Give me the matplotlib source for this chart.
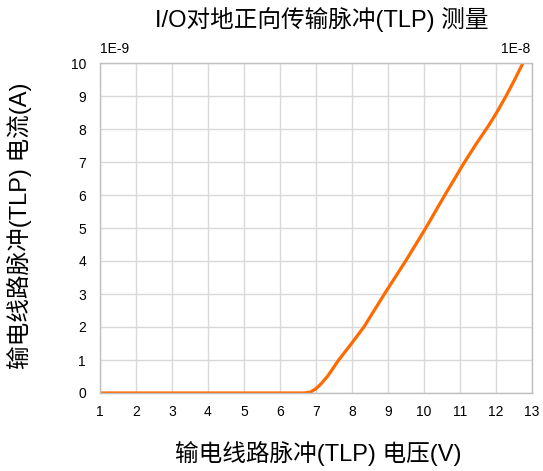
import matplotlib
matplotlib.use("Agg")
import matplotlib.pyplot as plt

plt.rcParams['font.family'] = ['Liberation Sans', 'Noto Sans CJK SC', 'DejaVu Sans']

voltage = [1.0, 6.68, 6.85, 7.0, 7.15, 7.33, 7.63, 8.0, 8.33, 8.90, 9.49, 10.05, 10.58, 11.1, 11.45, 11.78, 12.02, 12.29, 12.52, 12.75]
current = [0.0, 0.0, 0.03, 0.13, 0.29, 0.52, 1.0, 1.52, 2.0, 3.0, 4.0, 5.0, 6.0, 6.95, 7.55, 8.08, 8.5, 9.02, 9.5, 10.0]
x_ticks = list(range(1, 14))
y_ticks = list(range(0, 11))

title = "I/O对地正向传输脉冲(TLP) 测量"
xlabel = "输电线路脉冲(TLP) 电压(V)"
ylabel = "输电线路脉冲(TLP) 电流(A)"

fig = plt.figure(figsize=(5.43, 4.71), dpi=100)
ax = fig.add_axes([100/543, 78/471, 432/543, 330/471])

ax.plot(voltage, current, color='#FF6A00', linewidth=2.3,
        solid_capstyle='round', solid_joinstyle='round')

ax.set_xlim(1, 13)
ax.set_ylim(0, 10)
ax.set_xticks(x_ticks)
ax.set_yticks(y_ticks)
ax.grid(True, color='#D9D9D9', linewidth=1.0)
ax.set_axisbelow(True)
for s in ax.spines.values():
    s.set_color('#BFBFBF')
    s.set_linewidth(1.0)
ax.tick_params(length=0, labelsize=10, pad=9, colors='#000000')
ax.tick_params(axis='y', pad=10)

fig.text(322/543, 1 - 20/471, title, ha='center', va='center', fontsize=17)
fig.text(318/543, 1 - 453/471, xlabel, ha='center', va='center', fontsize=17)
fig.text(20/543, 1 - 226/471, ylabel, ha='center', va='center', rotation=90, fontsize=17)

ax.text(0.0, 1.02, "1E-9", transform=ax.transAxes, ha='left', va='bottom', fontsize=10)
ax.text(0.995, 1.02, "1E-8", transform=ax.transAxes, ha='right', va='bottom', fontsize=10)

fig.savefig("out.png", dpi=100)
